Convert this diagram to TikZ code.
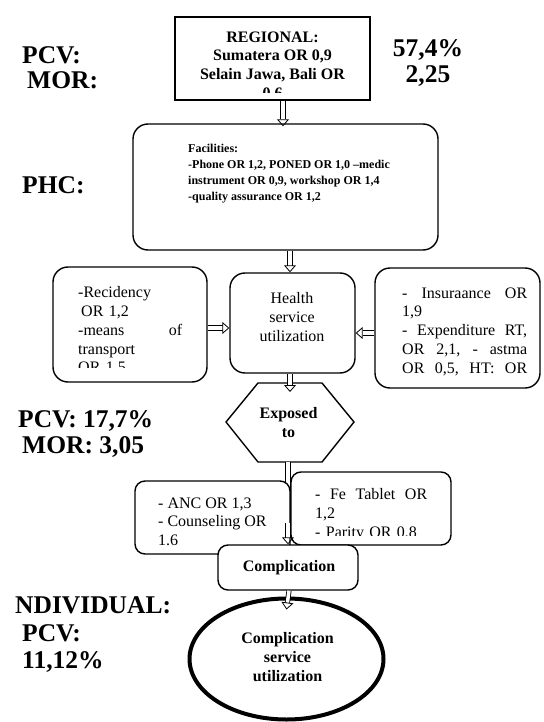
\documentclass[tikz,border=0pt]{standalone}
\usepackage{fontspec}
\setmainfont{Liberation Serif}
\usetikzlibrary{arrows.meta,shapes.geometric}

\tikzset{
  box/.style={draw, line width=1.4pt, fill=white, inner sep=0pt},
  rbox/.style={box, rounded corners=15pt},
  sbox/.style={box, rounded corners=10pt},
  txt/.style={inner sep=0pt, font=\fontsize{16}{18.8}\selectfont},
  btxt/.style={inner sep=0pt, font=\fontsize{16}{18.8}\selectfont\bfseries},
  big/.style={inner sep=0pt, anchor=west, font=\fontsize{25.5}{28}\selectfont\bfseries},
  shaft/.style={double, double distance=3.5pt, line width=0.8pt},
  hollow/.style={shaft, -{Triangle[open, length=7pt, width=12pt, line width=0.8pt]}},
}

\begin{document}
\begin{tikzpicture}[x=1pt, y=-1pt]
\useasboundingbox (0,0) rectangle (543,722);

% labels on the sides
\node[big] (pcvA) at (22,55) {PCV:};
\node[big] (morA) at (27,80) {MOR:};
\node[big, anchor=center] (pcvAval) at (428,50) {57,4\%};
\node[big, anchor=center] (morAval) at (428,76) {2,25};
\node[big] (phc) at (22,185) {PHC:};
\node[big] (pcvB) at (18,421) {PCV: 17,7\%};
\node[big] (morB) at (22,447) {MOR: 3,05};
\node[big] (indiv) at (15,605) {NDIVIDUAL:};
\node[big] (pcvC) at (22,633) {PCV:};
\node[big] (pcvCval) at (22,662) {11,12\%};

% regional
\node[box, minimum width=195pt, minimum height=83pt] (regional) at (272.5,58.5) {};
\begin{scope}
\clip (177,19) rectangle (368,92.5);
\node[btxt, anchor=north, align=center] (regtxt) at (272.5,31.4)
  {REGIONAL:\\Sumatera OR 0,9\\Selain Jawa, Bali OR\\0,6};
\end{scope}

% facilities
\node[rbox, minimum width=305pt, minimum height=126pt] (facil) at (285.5,187) {};
\node[inner sep=0pt, font=\fontsize{12}{16}\selectfont\bfseries, anchor=north west, align=left]
  (faciltxt) at (188,144)
  {Facilities:\\-Phone OR 1,2, PONED OR 1,0 --medic\\instrument OR 0,9, workshop OR 1,4\\-quality assurance OR 1,2};

% middle row
\node[rbox, minimum width=125pt, minimum height=100pt] (health) at (292.5,323) {};
\node[txt, anchor=north, align=center] (healthtxt) at (292,292.4) {Health\\service\\utilization};

\node[rbox, minimum width=154pt, minimum height=115pt] (recid) at (130,324.5) {};
\begin{scope}
\clip (55,269) rectangle (205,367);
\node[txt, anchor=north west, text width=104pt, align=left] (recidtxt) at (78,286.4)
  {-Recidency\\\hspace*{3pt}OR 1,2\\-means\hfill of\\transport\\OR 1,5};
\end{scope}

\node[rbox, minimum width=165pt, minimum height=120pt] (insur) at (457.5,328) {};
\begin{scope}
\clip (377,270) rectangle (538,378);
\node[txt, anchor=north west, text width=125pt, align=left] (insurtxt) at (402,287.4)
  {-\hfill Insuraance\hfill OR\\1,9\\-\hfill Expenditure\hfill RT,\\OR\hfill 2,1,\hfill -\hfill astma\\OR\hfill 0,5,\hfill HT:\hfill OR};
\end{scope}

% exposed
\coordinate (hexT) at (290,383);
\coordinate (hexB) at (290,462);
\draw[line width=1.4pt] (226,422) -- (258,383) -- (322,383) -- (354,422) -- (322,462) -- (258,462) -- cycle;
\node[btxt, anchor=north, align=center] (hex) at (288.5,407.4) {Exposed\\to};

\coordinate (cut) at (288,523);
\draw[shaft] ([xshift=-2pt]hexB) -- (cut);

% lower boxes
\node[sbox, minimum width=155pt, minimum height=73pt] (anc) at (212.5,517.5) {};
\node[txt, anchor=north west, align=left] (anctxt) at (158,497.4) {- ANC OR 1,3\\- Counseling OR\\1.6};

\node[sbox, minimum width=160pt, minimum height=73pt] (fe) at (371,508.5) {};
\begin{scope}
\clip (293,474) rectangle (449,535);
\node[txt, anchor=north west, text width=112pt, align=left] (fetxt) at (315,488.4)
  {-\hfill Fe\hfill Tablet\hfill OR\\1,2\\- Parity OR 0,8};
\end{scope}

\node[sbox, minimum width=140pt, minimum height=45pt] (compl) at (288,567.5) {};
\node[btxt] (compltxt) at (289,568) {Complication};
\draw[hollow] (cut) -- (compl.north);

\node[draw, ellipse, line width=4pt, minimum width=194pt, minimum height=121pt, inner sep=0pt] (ell) at (286.5,659) {};
\node[btxt, anchor=north, align=center] (elltxt) at (287.5,632.4) {Complication\\service\\utilization};
\draw[hollow] ([xshift=1pt]compl.south) -- ([yshift=-13pt]ell.north);

% arrows
\draw[hollow] ([xshift=10.5pt]regional.south) -- ([xshift=-2.5pt, yshift=-3pt]facil.north);
\draw[hollow] ([xshift=4.5pt]facil.south) -- ([xshift=-2.5pt]health.north);
\draw[hollow] ([yshift=-3.5pt]recid.east) -- ([yshift=-5pt]health.west);
\draw[hollow] ([yshift=-5pt]insur.west) -- ([yshift=-10pt]health.east);
\draw[hollow] ([xshift=-2.5pt]health.south) -- ([yshift=-9pt]hexT);
\end{tikzpicture}
\end{document}
